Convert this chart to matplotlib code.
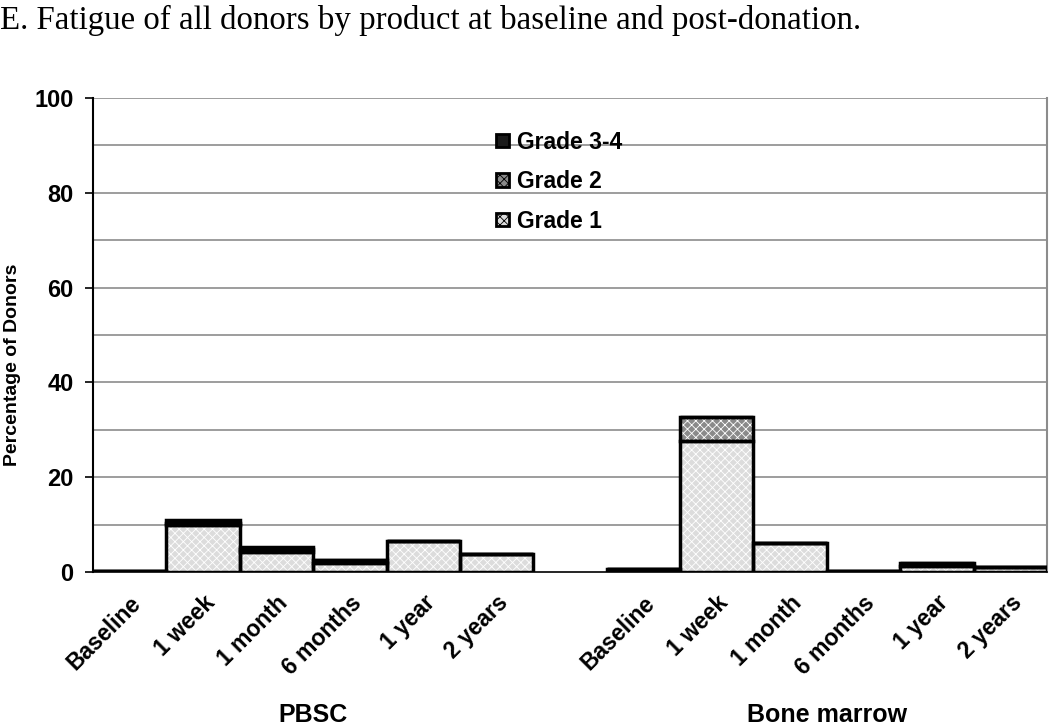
import matplotlib.pyplot as plt
import numpy as np
from matplotlib.patches import Patch

plt.rcParams["font.family"] = ["Liberation Sans", "DejaVu Sans"]
plt.rcParams["hatch.linewidth"] = 0.6

timepoints = ["Baseline", "1 week", "1 month", "6 months", "1 year", "2 years"]
groups = ["PBSC", "Bone marrow"]

# percentage of donors per grade, PBSC then bone marrow
pbsc_g1 = [0.3, 9.9, 4.2, 1.9, 6.5, 3.9]
pbsc_g2 = [0.0, 0.5, 0.6, 0.6, 0.0, 0.0]
pbsc_g34 = [0.0, 0.5, 0.5, 0.0, 0.0, 0.0]
bm_g1 = [0.6, 27.6, 6.1, 0.3, 1.2, 1.1]
bm_g2 = [0.0, 5.2, 0.0, 0.0, 0.8, 0.0]
bm_g34 = [0.0, 0.0, 0.0, 0.0, 0.0, 0.0]

n = len(timepoints)
x_pbsc = np.arange(n)
x_bm = np.arange(n) + n + 1
x = np.concatenate([x_pbsc, x_bm])
g1 = np.array(pbsc_g1 + bm_g1)
g2 = np.array(pbsc_g2 + bm_g2)
g34 = np.array(pbsc_g34 + bm_g34)

styles = {
    "Grade 1": dict(facecolor="#dcdcdc", hatch="xxxx"),
    "Grade 2": dict(facecolor="#8a8a8a", hatch="xxxx"),
    "Grade 3-4": dict(facecolor="#1a1a1a", hatch=""),
}

fig = plt.figure(figsize=(10.5, 7.28), dpi=100)
ax = fig.add_axes([0.0886, 0.2143, 0.9085, 0.6511])

for yv in np.arange(10, 101, 10):
    ax.axhline(yv, color="#8c8c8c", lw=1.2, zorder=0)

bottoms = np.zeros_like(g1)
for name, vals in [("Grade 1", g1), ("Grade 2", g2), ("Grade 3-4", g34)]:
    st = styles[name]
    ax.bar(x, vals, width=1.0, bottom=bottoms, facecolor=st["facecolor"],
           hatch=st["hatch"], edgecolor="white", linewidth=0, zorder=2)
    bottoms = bottoms + vals
# outlines of each segment
bottoms = np.zeros_like(g1)
for vals in [g1, g2, g34]:
    ax.bar(x, vals, width=1.0, bottom=bottoms, fill=False, edgecolor="black",
           linewidth=2.5, zorder=3)
    bottoms = bottoms + vals

ax.set_xlim(-0.5, 2 * n + 0.5)
ax.set_ylim(0, 100)
ax.spines["top"].set_visible(False)
ax.spines["left"].set_linewidth(1.5)
ax.spines["bottom"].set_linewidth(1.2)
ax.spines["right"].set_color("#8c8c8c")
ax.spines["right"].set_linewidth(1.5)

ax.set_xticks(x)
ax.set_xticklabels(timepoints * 2, rotation=45, ha="right", rotation_mode="anchor",
                   fontsize=16.5, fontweight="bold")
ax.tick_params(axis="x", length=0, pad=14)
ax.set_yticks(np.arange(0, 101, 20))
ax.tick_params(axis="y", labelsize=17, length=6, width=1.2, direction="out", pad=8)
for lab in ax.get_yticklabels():
    lab.set_fontweight("bold")
fig.text(0.012, 0.4986, "Percentage of Donors", rotation=90, ha="center", va="center",
         fontsize=14, fontweight="bold")

for gx, gname in [(x_pbsc.mean(), groups[0]), (x_bm.mean(), groups[1])]:
    ax.annotate(gname, xy=(gx, 0), xycoords=("data", "figure fraction"),
                xytext=(0, 0.5), textcoords="offset points", ha="center", va="bottom",
                fontsize=18, fontweight="bold")

handles = [Patch(facecolor=styles[k]["facecolor"], hatch=styles[k]["hatch"],
                 edgecolor="black", linewidth=2.0, label=k)
           for k in ["Grade 3-4", "Grade 2", "Grade 1"]]
ax.legend(handles=handles, loc="upper left", bbox_to_anchor=(0.406, 0.965), frameon=False,
          prop={"weight": "bold", "size": 16.5}, handlelength=0.55, handleheight=0.55,
          handletextpad=0.35, labelspacing=0.72, borderpad=0.2)

fig.text(0.0, 0.972, "E. Fatigue of all donors by product at baseline and post-donation.",
         fontsize=23.7, family=["Liberation Serif", "DejaVu Serif"], ha="left", va="center")

fig.savefig("out.png", dpi=100)
